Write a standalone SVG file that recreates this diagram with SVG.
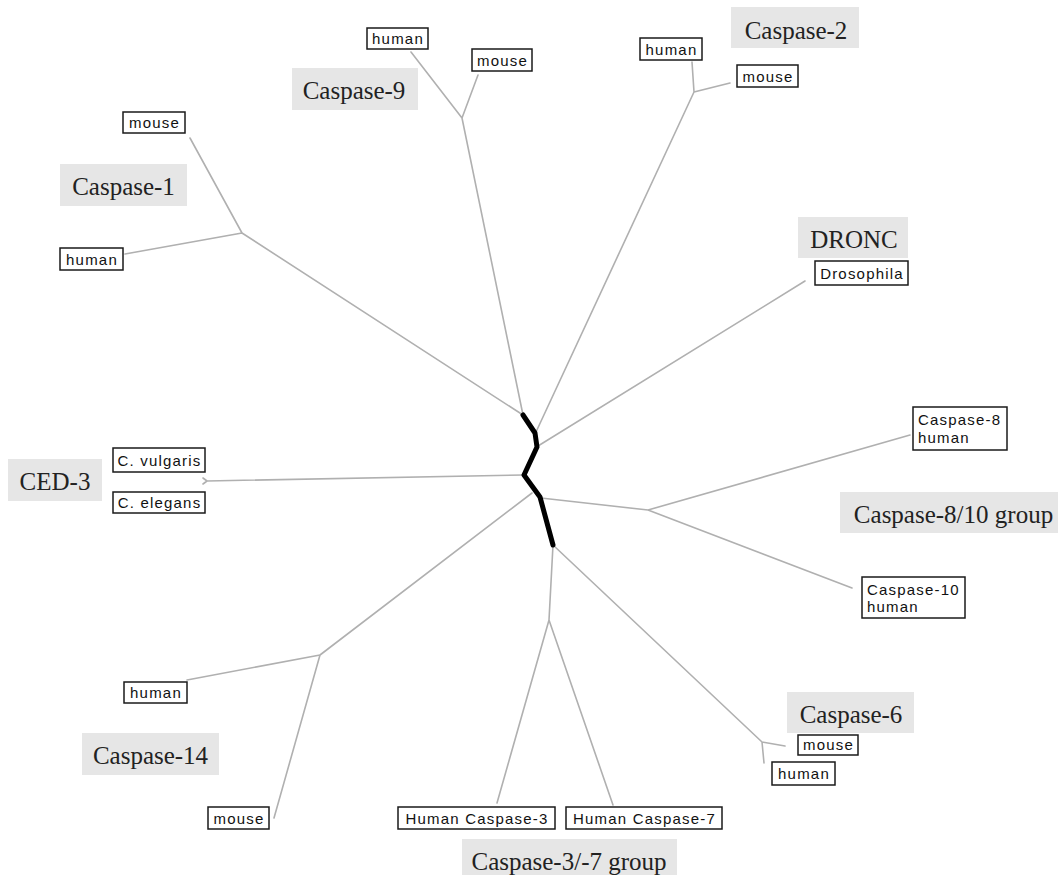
<svg xmlns="http://www.w3.org/2000/svg" width="1058" height="875" viewBox="0 0 1058 875">
<style>
.bg{fill:#ffffff}
.lbl rect{fill:#e6e6e6;stroke:none}
.lbl text{font-family:"Liberation Serif","Times New Roman",serif;font-size:25px;fill:#222;text-anchor:middle}
.box rect{fill:#ffffff;stroke:#1a1a1a;stroke-width:1.5}
.box text{font-family:"Liberation Sans",Arial,sans-serif;font-size:15px;letter-spacing:1.2px;fill:#111;text-anchor:middle}
.box text.l{text-anchor:start}
.br{stroke:#b0b0b0;stroke-width:1.6;fill:none;stroke-linecap:round}
.core{stroke:#000;stroke-width:5;fill:none;stroke-linejoin:round;stroke-linecap:round}
</style>
<rect class="bg" x="0" y="0" width="1058" height="875"/>
<g id="connectors">
<path class="br" d="M523,415 L462,118 M462,118 L411,52 M462,118 L478,75"/>
<path class="br" d="M536,432 L694,92 M694,92 L692,62 M694,92 L730,83"/>
<path class="br" d="M538,446 L805,281"/>
<path class="br" d="M523,415 L242,233 M242,233 L190,138 M242,233 L125,254"/>
<path class="br" d="M523,475 L207,481 M207,481 L203,478 M207,481 L203,484"/>
<path class="br" d="M532,493 L320,655 M320,655 L187,680 M320,655 L274,818"/>
<path class="br" d="M541,498 L648,510 M648,510 L910,435 M648,510 L852,588"/>
<path class="br" d="M553,545 L762,742 M762,742 L785,746 M762,742 L764,763"/>
<path class="br" d="M553,545 L549,620 M549,620 L497,803 M549,620 L613,805"/>
<path class="core" d="M523,415 L535,433 L537,447 L524,475 L540,497 L553,545"/>
</g>
<g id="label-caspase9" class="lbl"><rect x="292" y="68" width="126" height="42"/><text x="354" y="99">Caspase-9</text></g>
<g id="label-caspase1" class="lbl"><rect x="60" y="164" width="127" height="42"/><text x="123.5" y="195">Caspase-1</text></g>
<g id="label-caspase2" class="lbl"><rect x="731" y="7" width="128" height="41"/><text x="796" y="39">Caspase-2</text></g>
<g id="label-dronc" class="lbl"><rect x="798" y="217" width="110" height="41"/><text x="854" y="248">DRONC</text></g>
<g id="label-ced3" class="lbl"><rect x="8" y="459" width="94" height="42"/><text x="55" y="490">CED-3</text></g>
<g id="label-caspase810" class="lbl"><rect x="840" y="492" width="218" height="41"/><text x="953.5" y="523">Caspase-8/10 group</text></g>
<g id="label-caspase6" class="lbl"><rect x="787" y="692" width="127" height="41"/><text x="851" y="723">Caspase-6</text></g>
<g id="label-caspase14" class="lbl"><rect x="82" y="733" width="137" height="42"/><text x="150.5" y="764">Caspase-14</text></g>
<g id="label-caspase37" class="lbl"><rect x="462" y="839" width="215" height="40"/><text x="569" y="870">Caspase-3/-7 group</text></g>
<g id="c9-human" class="box"><rect x="367" y="28" width="61" height="21"/><text x="398" y="44">human</text></g>
<g id="c9-mouse" class="box"><rect x="472" y="49" width="60" height="22"/><text x="502.5" y="66">mouse</text></g>
<g id="c2-human" class="box"><rect x="640" y="38" width="62" height="22"/><text x="671.5" y="55">human</text></g>
<g id="c2-mouse" class="box"><rect x="737" y="65" width="61" height="22"/><text x="768" y="82">mouse</text></g>
<g id="c1-mouse" class="box"><rect x="123" y="112" width="62" height="21"/><text x="154.5" y="128">mouse</text></g>
<g id="c1-human" class="box"><rect x="60" y="248" width="63" height="22"/><text x="92" y="265">human</text></g>
<g id="ced3-vulgaris" class="box"><rect x="113" y="448" width="92" height="24"/><text x="159.5" y="466">C. vulgaris</text></g>
<g id="ced3-elegans" class="box"><rect x="113" y="492" width="92" height="21"/><text x="159.5" y="508">C. elegans</text></g>
<g id="dronc-drosophila" class="box"><rect x="815" y="261" width="93" height="24"/><text x="862" y="279">Drosophila</text></g>
<g id="c8-human" class="box"><rect x="913" y="407" width="94" height="43"/><text class="l" x="918" y="425">Caspase-8</text><text class="l" x="918" y="443">human</text></g>
<g id="c10-human" class="box"><rect x="862" y="577" width="103" height="41"/><text class="l" x="867" y="595">Caspase-10</text><text class="l" x="867" y="612">human</text></g>
<g id="c6-mouse" class="box"><rect x="798" y="735" width="60" height="20"/><text x="828.5" y="750">mouse</text></g>
<g id="c6-human" class="box"><rect x="772" y="762" width="63" height="23"/><text x="804" y="779">human</text></g>
<g id="c3-human" class="box"><rect x="398" y="807" width="157" height="22"/><text x="477" y="824">Human Caspase-3</text></g>
<g id="c7-human" class="box"><rect x="566" y="807" width="156" height="22"/><text x="644.5" y="824">Human Caspase-7</text></g>
<g id="c14-human" class="box"><rect x="124" y="682" width="63" height="21"/><text x="156" y="698">human</text></g>
<g id="c14-mouse" class="box"><rect x="208" y="807" width="61" height="22"/><text x="239" y="824">mouse</text></g>
</svg>
